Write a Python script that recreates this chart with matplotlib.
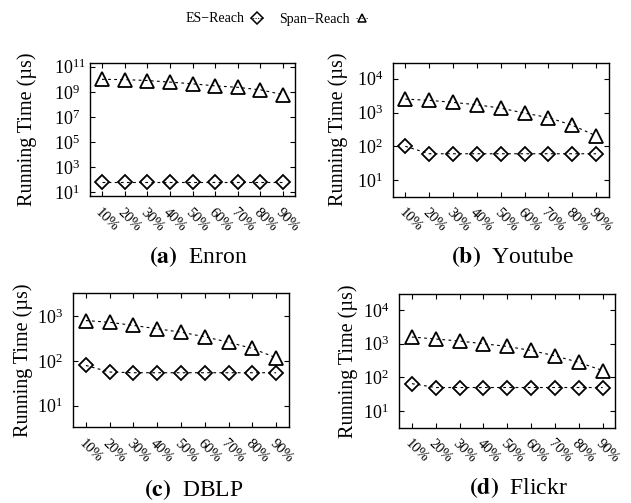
import numpy as np
import matplotlib
matplotlib.use("Agg")
import matplotlib.pyplot as plt
from matplotlib.lines import Line2D

plt.rcParams['font.family'] = ['Liberation Serif', 'DejaVu Serif']
plt.rcParams['mathtext.fontset'] = 'stix'

# x categories (fraction of data)
ratios = ['10%', '20%', '30%', '40%', '50%', '60%', '70%', '80%', '90%']

# running time in microseconds
enron_es = [60, 60, 60, 60, 60, 60, 60, 60, 60]
enron_span = [1.0e10, 9.5e9, 8.0e9, 6.0e9, 4.4e9, 3.0e9, 2.3e9, 1.45e9, 6.0e8]
youtube_es = [100, 60, 60, 60, 60, 60, 60, 60, 60]
youtube_span = [2500, 2300, 2000, 1700, 1350, 960, 710, 420, 205]
dblp_es = [80, 57, 55, 55, 55, 55, 55, 55, 55]
dblp_span = [810, 740, 630, 530, 445, 350, 265, 192, 119]
flickr_es = [65, 50, 50, 50, 50, 50, 50, 50, 50]
flickr_span = [1580, 1380, 1200, 1000, 830, 630, 435, 280, 160]

W, H = 631, 503

panels = [
    # (axes rect in px: left, top, right, bottom), es, span, ylim, yticks,
    # caption letter, name, caption centre px, ylabel centre x px
    ((90, 63, 295, 196), enron_es, enron_span, (5, 2e11),
     [1e1, 1e3, 1e5, 1e7, 1e9, 1e11], 'a', 'Enron', (198, 257), 27),
    ((392.7, 62.7, 608.7, 196.7), youtube_es, youtube_span, (3.2, 3e4),
     [1e1, 1e2, 1e3, 1e4], 'b', 'Youtube', (513, 257), 338),
    ((73.3, 293.3, 288.7, 427.3), dblp_es, dblp_span, (3.3, 3300),
     [1e1, 1e2, 1e3], 'c', 'DBLP', (194, 490), 23),
    ((399.3, 294, 615.3, 427.7), flickr_es, flickr_span, (3.2, 3e4),
     [1e1, 1e2, 1e3, 1e4], 'd', 'Flickr', (518, 488), 348),
]

fig = plt.figure(figsize=(W / 100, H / 100), dpi=100)

x = np.arange(1, len(ratios) + 1)
for box, es, span, ylim, yticks, letter, name, cap, labx in panels:
    l, t, r, b = box
    ax = fig.add_axes([l / W, 1 - b / H, (r - l) / W, (b - t) / H])
    ax.plot(x, span, color='black', lw=0.8, ls=(0, (2.5, 3)), marker='^',
            ms=9.5, mfc='none', mec='black', mew=1.3)
    ax.plot(x, es, color='black', lw=0.8, ls=(0, (2.5, 3)), marker='D',
            ms=6.8, mfc='none', mec='black', mew=1.3)
    ax.set_yscale('log')
    ax.set_ylim(*ylim)
    ax.set_xlim(0.47, 9.53)
    ax.set_yticks(yticks)
    ax.yaxis.set_minor_locator(matplotlib.ticker.NullLocator())
    ax.set_xticks(x)
    ax.set_xticklabels(ratios, rotation=-45, ha='left', va='top',
                       rotation_mode='anchor', fontsize=10.5)
    ax.tick_params(direction='in', length=3.5, width=0.8, top=True, right=True)
    ax.tick_params(axis='x', pad=7, labelsize=10.5)
    # gnuplot style: the "10" is right aligned, exponent hangs to the right
    ax.tick_params(axis='y', pad=26, labelsize=13)
    for lab in ax.get_yticklabels():
        lab.set_horizontalalignment('left')
    for sp in ax.spines.values():
        sp.set_linewidth(1.0)
    ylab = ax.set_ylabel('Running Time (µs)', fontsize=14.5)
    ylab.set_va('center')
    ax.yaxis.set_label_coords((labx - l) / (r - l), 0.5)
    fig.text(cap[0] / W, 1 - cap[1] / H, r'$\mathbf{(%s)}$  ' % letter + name,
             ha='center', va='center', fontsize=17)

handles = [
    Line2D([], [], color='black', lw=0.6, ls=(0, (1.5, 1.5)), marker='D', ms=6,
           mfc='none', mec='black', mew=1.1),
    Line2D([], [], color='black', lw=0.6, ls=(0, (1.5, 1.5)), marker='^', ms=6,
           mfc='none', mec='black', mew=1.1),
]
fig.legend(handles, ['ES\u2212Reach', 'Span\u2212Reach'], loc='center',
           bbox_to_anchor=(277 / W, 1 - 19 / H), ncol=2, frameon=False,
           markerfirst=False, handlelength=0.9, handletextpad=0.4,
           columnspacing=1.2, fontsize=10, borderpad=0, borderaxespad=0)

fig.savefig('out.png', dpi=100)
